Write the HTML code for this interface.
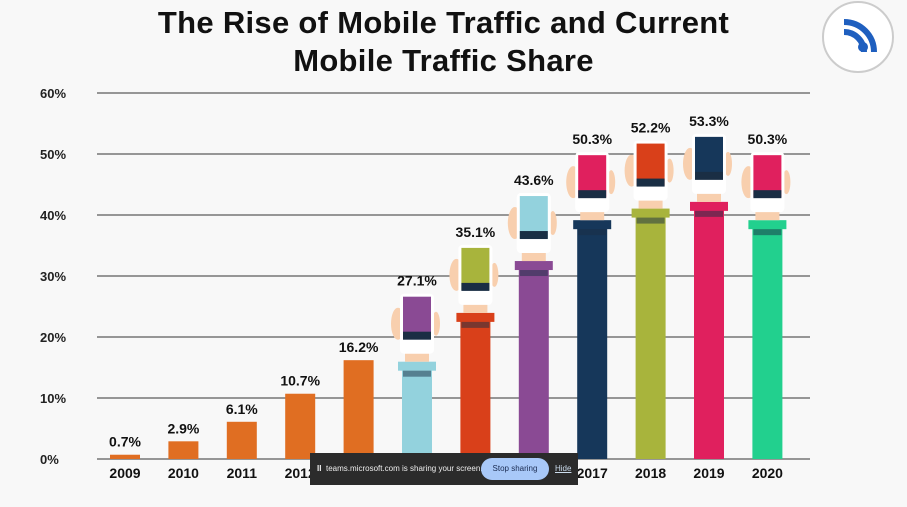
<!DOCTYPE html>
<html><head><meta charset="utf-8"><style>
body{margin:0;background:#f7f7f7;font-family:"Liberation Sans",sans-serif;}
#wrap{position:relative;width:907px;height:507px;overflow:hidden;background:#f8f8f8}
h1{position:absolute;left:0;top:4px;width:887px;margin:0;text-align:center;font-size:31px;line-height:38px;font-weight:bold;color:#111;letter-spacing:0.3px}
#banner{position:absolute;left:310px;top:453px;width:268px;height:32px;background:#2b2b2b;color:#eee;font-size:8px;white-space:nowrap}
</style></head><body>
<div id="wrap">
<h1>The Rise of Mobile Traffic and Current<br>Mobile Traffic Share</h1>
<svg id="logo" style="position:absolute;left:818px;top:0" width="80" height="76">
<circle cx="40" cy="37" r="35" fill="#fff" stroke="#ccc" stroke-width="2"/>
<path d="M26 22 A30 30 0 0 1 56 52" stroke="#1f5fbf" stroke-width="6" fill="none"/>
<path d="M26 32 A20 20 0 0 1 46 52" stroke="#1f5fbf" stroke-width="6" fill="none"/>
<circle cx="45" cy="47" r="5" fill="#1f5fbf"/>
</svg>
<svg id="chart" width="907" height="507" style="position:absolute;left:0;top:0"></svg>
<div id="banner">
<span style="position:absolute;left:7px;top:11px;font-weight:bold">II</span>
<span style="position:absolute;left:16px;top:11px">teams.microsoft.com is sharing your screen.</span>
<span style="position:absolute;left:171px;top:5px;width:68px;height:22px;border-radius:11px;background:#a8c8f8;color:#1a2a50;text-align:center;line-height:22px">Stop sharing</span>
<span style="position:absolute;left:245px;top:11px;text-decoration:underline;color:#cde">Hide</span>
</div>
</div>
<script>
const years=["2009","2010","2011","2012","2013","2014","2015","2016","2017","2018","2019","2020"];
const values=[0.7,2.9,6.1,10.7,16.2,27.1,35.1,43.6,50.3,52.2,53.3,50.3];
const labels=["0.7%","2.9%","6.1%","10.7%","16.2%","27.1%","35.1%","43.6%","50.3%","52.2%","53.3%","50.3%"];
const ticks=[0,10,20,30,40,50,60];
const barColors=["#e06e22","#e06e22","#e06e22","#e06e22","#e06e22","#93d2dd","#d9401a","#8a4a94","#16375a","#a8b43c","#e0205e","#22d08e"];
const phoneColors=[null,null,null,null,null,"#8a4a94","#a8b43c","#93d2dd","#e0205e","#d9401a","#16375a","#e0205e"];
const NS="http://www.w3.org/2000/svg",svg=document.getElementById('chart');
const y=v=>459-v*6.1, x=i=>125+i*58.4;
function el(t,a){const e=document.createElementNS(NS,t);for(const k in a)e.setAttribute(k,a[k]);svg.appendChild(e);return e;}
ticks.forEach(t=>{
 const l=el('line',{x1:97,x2:810,y1:y(t),y2:y(t),stroke:'#333','stroke-width':1});
 
 
 const tx=el('text',{x:40,y:y(t)+5,'font-size':13,'font-weight':'bold',fill:'#222'});tx.textContent=t+'%';
 
 
});
values.forEach((v,i)=>{
 const cx=x(i),top=y(v);
 if(!phoneColors[i]){
  const r=el('rect',{x:cx-15,y:top,width:30,height:459-top,fill:barColors[i]});
  
  
 } else {
  const g=el('g',{});
  
  
  const add=(t,a)=>{const e=el(t,a);g.appendChild(e);return e;};
  add('rect',{x:cx-15,y:top+76,width:30,height:459-top-76,fill:barColors[i]});
  add('rect',{x:cx-19,y:top+68,width:38,height:9,fill:barColors[i]});
  add('rect',{x:cx-14,y:top+77,width:28,height:6,fill:'#1a2e44',opacity:0.5});
  add('rect',{x:cx-12,y:top+56,width:24,height:12,fill:'#f8cfae'});
  add('ellipse',{cx:cx-19,cy:top+30,rx:7,ry:16,fill:'#f8cfae'});
  add('ellipse',{cx:cx+19,cy:top+30,rx:4,ry:12,fill:'#f8cfae'});
  add('rect',{x:cx-17,y:top,width:34,height:60,rx:4,fill:'#fff'});
  add('rect',{x:cx-14,y:top+3,width:28,height:42,fill:phoneColors[i]});
  add('rect',{x:cx-14,y:top+38,width:28,height:8,fill:'#1a2e44'});
 }
 const lt=el('text',{x:cx,y:top-8,'text-anchor':'middle','font-size':14,'font-weight':'bold',fill:'#111'});
 lt.textContent=labels[i];
 
 
 const xt=el('text',{x:cx,y:478,'text-anchor':'middle','font-size':14,'font-weight':'bold',fill:'#111'});
 xt.textContent=years[i];
 
 
});
</script>
</body></html>
